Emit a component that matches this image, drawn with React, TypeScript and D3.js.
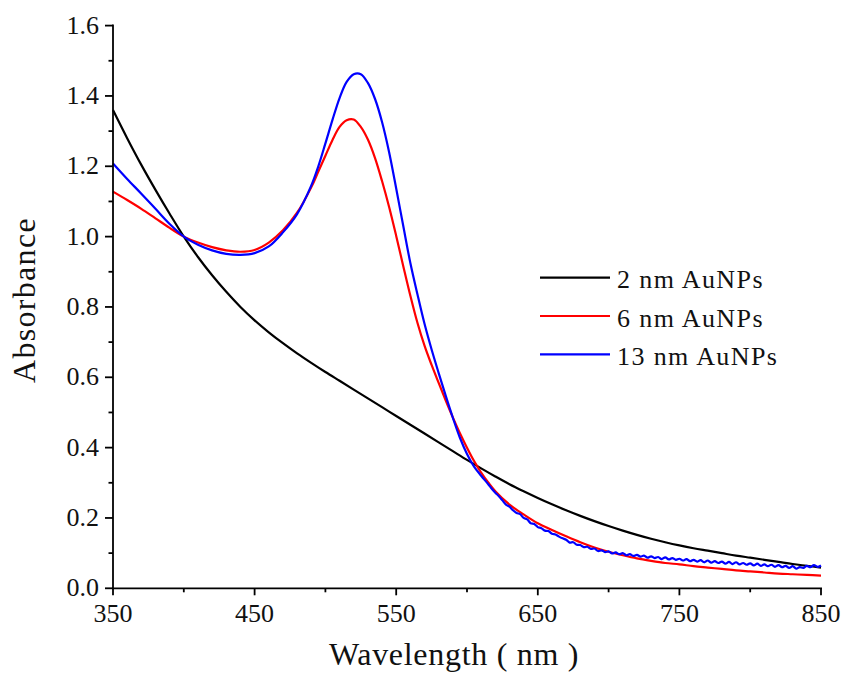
import React from "react";
import * as d3 from "d3";

const W = 842;
const H = 674;

// 2 nm AuNPs
const blackX = [350, 360, 370, 380, 390, 400, 410, 420, 430, 440, 450, 460, 470, 480, 490, 500, 510, 520, 530, 540, 550, 560, 570, 580, 590, 600, 610, 620, 630, 640, 650, 660, 670, 680, 690, 700, 710, 720, 730, 740, 750, 760, 770, 780, 790, 800, 810, 820, 830, 840, 850];
const blackY = [1.360, 1.280, 1.204, 1.133, 1.065, 1.000, 0.942, 0.890, 0.843, 0.800, 0.762, 0.728, 0.697, 0.668, 0.641, 0.615, 0.590, 0.565, 0.540, 0.515, 0.490, 0.465, 0.440, 0.415, 0.390, 0.365, 0.341, 0.318, 0.296, 0.276, 0.257, 0.239, 0.222, 0.206, 0.191, 0.177, 0.164, 0.152, 0.141, 0.131, 0.122, 0.114, 0.107, 0.100, 0.093, 0.087, 0.081, 0.075, 0.069, 0.064, 0.059];

// 6 nm AuNPs
const redX = [350, 360, 370, 380, 390, 400, 410, 420, 430, 440, 450, 460, 470, 480, 490, 495, 500, 505, 510, 515, 520, 525, 530, 535, 540, 545, 550, 555, 560, 565, 570, 575, 580, 585, 590, 595, 600, 605, 610, 615, 620, 630, 640, 650, 660, 670, 680, 690, 700, 710, 720, 730, 740, 750, 760, 770, 780, 790, 800, 810, 820, 830, 840, 850];
const redY = [1.128, 1.104, 1.079, 1.052, 1.025, 1.000, 0.983, 0.970, 0.961, 0.957, 0.962, 0.983, 1.018, 1.068, 1.140, 1.185, 1.230, 1.275, 1.312, 1.331, 1.333, 1.312, 1.276, 1.224, 1.158, 1.084, 1.002, 0.916, 0.832, 0.755, 0.690, 0.635, 0.584, 0.534, 0.486, 0.441, 0.400, 0.362, 0.329, 0.301, 0.276, 0.238, 0.210, 0.185, 0.166, 0.148, 0.131, 0.116, 0.104, 0.094, 0.085, 0.078, 0.072, 0.068, 0.063, 0.059, 0.055, 0.051, 0.048, 0.045, 0.042, 0.040, 0.038, 0.036];

// 13 nm AuNPs
const blueX = [350, 360, 370, 380, 390, 400, 410, 420, 430, 440, 450, 460, 470, 480, 490, 495, 500, 505, 510, 515, 520, 525, 530, 535, 540, 545, 550, 555, 560, 565, 570, 575, 580, 585, 590, 595, 600, 605, 610, 615,
  617.5, 620, 622.5, 625, 627.5, 630, 632.5, 635, 637.5, 640, 642.5, 645, 647.5, 650, 652.5, 655, 657.5, 660, 662.5, 665, 667.5, 670, 672.5, 675, 677.5, 680, 682.5, 685, 687.5, 690, 692.5, 695, 697.5, 700,
  702.5, 705, 707.5, 710, 712.5, 715, 717.5, 720, 722.5, 725, 727.5, 730, 732.5, 735, 737.5, 740, 742.5, 745, 747.5, 750, 752.5, 755, 757.5, 760, 762.5, 765, 767.5, 770, 772.5, 775, 777.5, 780,
  782.5, 785, 787.5, 790, 792.5, 795, 797.5, 800, 802.5, 805, 807.5, 810, 812.5, 815, 817.5, 820, 822.5, 825, 827.5, 830, 832.5, 835, 837.5, 840, 842.5, 845, 847.5, 850];
const blueY = [1.208, 1.164, 1.122, 1.079, 1.036, 1.000, 0.977, 0.961, 0.951, 0.948, 0.953, 0.972, 1.012, 1.064, 1.145, 1.200, 1.265, 1.332, 1.394, 1.440, 1.462, 1.462, 1.437, 1.392, 1.326, 1.240, 1.137, 1.030, 0.925, 0.836, 0.752, 0.679, 0.612, 0.547, 0.485, 0.428, 0.382, 0.346, 0.320, 0.296,
  0.283, 0.272, 0.262, 0.250, 0.238, 0.232, 0.222, 0.214, 0.211, 0.200, 0.196, 0.185, 0.183, 0.174, 0.171, 0.164, 0.163, 0.155, 0.153, 0.147, 0.142, 0.138, 0.130, 0.131, 0.124, 0.123, 0.117, 0.118, 0.112, 0.113, 0.106, 0.108, 0.103, 0.105,
  0.099, 0.102, 0.097, 0.100, 0.094, 0.097, 0.092, 0.095, 0.090, 0.093, 0.087, 0.091, 0.086, 0.089, 0.083, 0.088, 0.082, 0.086, 0.081, 0.084, 0.079, 0.083, 0.077, 0.081, 0.076, 0.080, 0.074, 0.079, 0.073, 0.077, 0.072, 0.076,
  0.070, 0.075, 0.069, 0.074, 0.068, 0.072, 0.067, 0.071, 0.065, 0.070, 0.064, 0.068, 0.063, 0.067, 0.061, 0.066, 0.060, 0.064, 0.058, 0.063, 0.056, 0.060, 0.058, 0.064, 0.060, 0.066, 0.061, 0.065];

const xMajor = [350, 450, 550, 650, 750, 850];
const xMinor = [400, 500, 600, 700, 800];
const yMajor = [0, 0.2, 0.4, 0.6, 0.8, 1.0, 1.2, 1.4, 1.6];
const yMinor = [0.1, 0.3, 0.5, 0.7, 0.9, 1.1, 1.3, 1.5];

const seriesNames = ["2 nm AuNPs", "6 nm AuNPs", "13 nm AuNPs"];
const seriesColors = ["#000000", "#ff0000", "#0000ff"];

const FONT = "'Liberation Serif', 'Times New Roman', serif";

export default function App() {
  const x = d3.scaleLinear().domain([350, 850]).range([113, 821]);
  const y = d3.scaleLinear().domain([0, 1.6]).range([588.3, 25.6]);

  const smooth = d3
    .line<[number, number]>()
    .x((d) => x(d[0]))
    .y((d) => y(d[1]))
    .curve(d3.curveCatmullRom.alpha(0.5));

  const zip = (xs: number[], ys: number[]) => xs.map((v, i) => [v, ys[i]] as [number, number]);

  const paths = [
    smooth(zip(blackX, blackY)),
    smooth(zip(redX, redY)),
    smooth(zip(blueX, blueY)),
  ];

  const x0 = x(350);
  const y0 = y(0);

  return (
    <svg
      width={W}
      height={H}
      style={{ position: "absolute", left: 0, top: 0, background: "#fff" }}
      fontFamily={FONT}
    >
      <rect x={0} y={0} width={W} height={H} fill="#fff" />
      <g fill="none" strokeWidth={2.2} strokeLinejoin="round">
        {paths.map((d, i) => (
          <path key={i} d={d || ""} stroke={seriesColors[i]} />
        ))}
      </g>
      <g stroke="#000" strokeWidth={1.8}>
        <line x1={x0} x2={x0} y1={y(1.6) - 1} y2={y0 + 1} />
        <line x1={x0 - 1} x2={x(850) + 1} y1={y0} y2={y0} />
        {xMajor.map((v) => (
          <line key={"xM" + v} x1={x(v)} x2={x(v)} y1={y0} y2={y0 + 7} />
        ))}
        {xMinor.map((v) => (
          <line key={"xm" + v} x1={x(v)} x2={x(v)} y1={y0} y2={y0 + 4} />
        ))}
        {yMajor.map((v) => (
          <line key={"yM" + v} x1={x0 - 8} x2={x0} y1={y(v)} y2={y(v)} />
        ))}
        {yMinor.map((v) => (
          <line key={"ym" + v} x1={x0 - 4.5} x2={x0} y1={y(v)} y2={y(v)} />
        ))}
      </g>
      <g fontSize={26} fill="#111">
        {xMajor.map((v) => (
          <text key={"xl" + v} x={x(v)} y={y0 + 34} textAnchor="middle">
            {d3.format("d")(v)}
          </text>
        ))}
        {yMajor.map((v) => (
          <text key={"yl" + v} x={99} y={y(v) + 8} textAnchor="end">
            {d3.format(".1f")(v)}
          </text>
        ))}
      </g>
      <text x={454} y={665} fontSize={32} textAnchor="middle" letterSpacing={0.7} fill="#111">
        Wavelength ( nm )
      </text>
      <text
        transform={`translate(35, 300) rotate(-90)`}
        fontSize={32}
        textAnchor="middle"
        letterSpacing={1.3}
        fill="#111"
      >
        Absorbance
      </text>
      {seriesNames.map((name, i) => {
        const ly = 277.7 + i * 38.3;
        return (
          <g key={name}>
            <line x1={540} x2={610} y1={ly} y2={ly} stroke={seriesColors[i]} strokeWidth={2.2} />
            <text x={617} y={ly + 10.5} fontSize={26} letterSpacing={1.4} fill="#111">
              {name}
            </text>
          </g>
        );
      })}
    </svg>
  );
}
